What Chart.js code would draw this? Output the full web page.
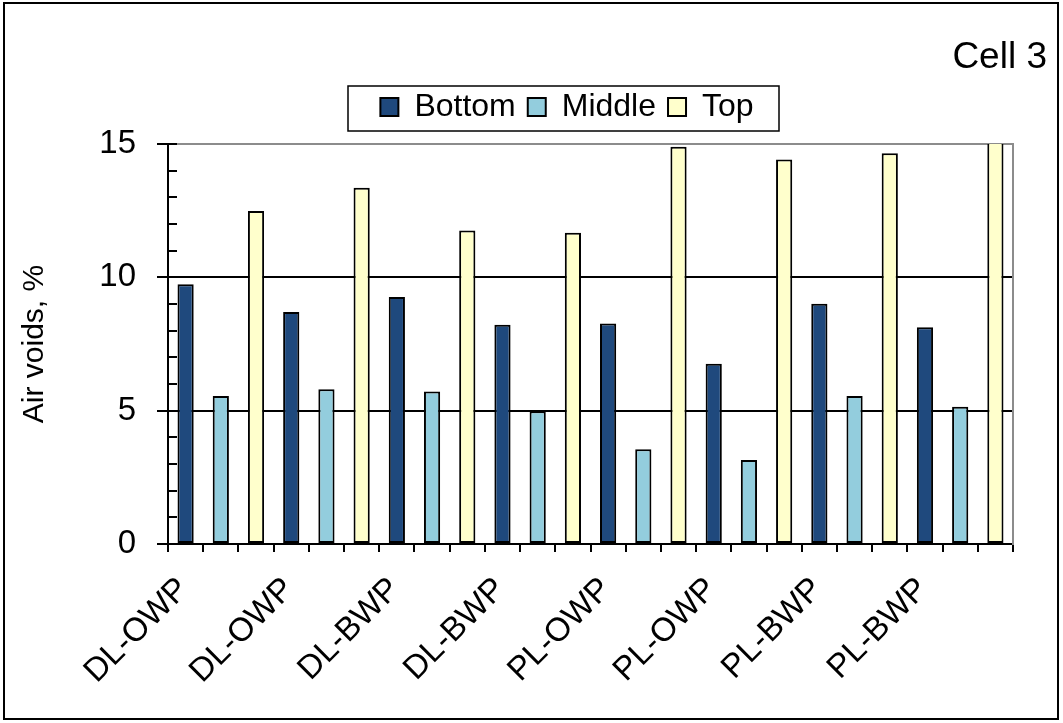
<!DOCTYPE html>
<html>
<head>
<meta charset="utf-8">
<script src="https://cdn.jsdelivr.net/npm/chart.js@4.4.1/dist/chart.umd.min.js"></script>
<style>
  html, body { margin: 0; padding: 0; background: #fff; }
  #frame {
    position: absolute; left: 3px; top: 2px;
    width: 1056px; height: 718px;
    border: 2px solid #000; box-sizing: border-box;
  }
  canvas { display: block; }
</style>
</head>
<body>
<div id="frame"><canvas id="chart" width="1052" height="714"></canvas></div>
<script>
// data
const groups = ['DL-OWP', 'DL-OWP', 'DL-BWP', 'DL-BWP', 'PL-OWP', 'PL-OWP', 'PL-BWP', 'PL-BWP']
const seriesNames = ['Bottom', 'Middle', 'Top']
const bottomVals = [9.74, 8.70, 9.26, 8.22, 8.27, 6.76, 9.01, 8.13]
const middleVals = [5.55, 5.80, 5.72, 4.98, 3.55, 3.15, 5.55, 5.15]
const topVals = [12.49, 13.36, 11.76, 11.67, 14.90, 14.42, 14.65, 15.40]
const yMin = 0
const yMax = 15
const yMajorStep = 5
const yMinorStep = 1
const colors = ['#1F497D', '#93CDDD', '#FFFFCC']
const cellTitle = 'Cell 3'

Chart.defaults.font.family = "'Liberation Sans', Arial, sans-serif"
Chart.defaults.color = '#000'

// every bar gets its own slot on the axis, label on the first slot of each group
const slotLabels = []
groups.forEach(g => { slotLabels.push(g, '', '') })

function spread(values, pos) {
    let out = []
    for (let i = 0; i < values.length; i++) {
        out.push(null, null, null)
        out[i * 3 + pos] = values[i]
    }
    return out
}

const allVals = [bottomVals, middleVals, topVals]
const datasets = seriesNames.map((name, k) => ({
    label: name,
    data: spread(allVals[k], k),
    backgroundColor: colors[k],
    borderColor: '#000',
    borderWidth: 2,
    borderSkipped: false,
    grouped: false,
    barPercentage: 0.46,
    categoryPercentage: 1.0
}))

// legend moved over a bit, with a frame round it, plus the corner title
const decor = {
    id: 'decor',
    afterLayout(chart) {
        const lg = chart.legend
        lg.left += 36; lg.right += 36
        lg.top -= 11; lg.bottom -= 11
    },
    afterDraw(chart) {
        const ctx = chart.ctx
        const lg = chart.legend
        const cx = (lg.left + lg.right) / 2
        const cy = lg.top + 12 + 16
        ctx.save()
        ctx.strokeStyle = '#000'
        ctx.lineWidth = 1.5
        ctx.strokeRect(cx - 219, cy - 21, 431, 45)
        ctx.font = "37px 'Liberation Sans', Arial, sans-serif"
        ctx.fillStyle = '#000'
        ctx.textAlign = 'right'
        ctx.textBaseline = 'middle'
        ctx.fillText(cellTitle, chart.width - 10, 54)
        ctx.restore()
    }
}

new Chart(document.getElementById('chart'), {
    type: 'bar',
    data: { labels: slotLabels, datasets: datasets },
    options: {
        responsive: false,
        animation: false,
        devicePixelRatio: 1,
        layout: { padding: { top: 86, left: 0, right: 0, bottom: 0 } },
        plugins: {
            legend: {
                position: 'top',
                labels: {
                    boxWidth: 18, boxHeight: 18, padding: 12,
                    font: { size: 32 }, color: '#000'
                }
            },
            tooltip: { enabled: false }
        },
        scales: {
            x: {
                offset: true,
                grid: {
                    offset: true, drawOnChartArea: false, drawTicks: true,
                    tickLength: 8, color: '#000', lineWidth: 2
                },
                border: { display: true, color: '#000', width: 2 },
                ticks: {
                    autoSkip: false, maxRotation: 45, minRotation: 45,
                    padding: 18, labelOffset: -2, font: { size: 33 }, color: '#000'
                },
                afterFit(s) { s.height = 174 }
            },
            y: {
                position: 'left', weight: 1,
                min: yMin, max: yMax,
                ticks: { stepSize: yMajorStep, padding: 21, font: { size: 33 }, color: '#000' },
                grid: {
                    tickLength: 11, lineWidth: 2, tickColor: '#000',
                    color: c => (c.tick && c.tick.value === yMax) ? '#8c8c8c' : '#000'
                },
                border: { display: true, color: '#000', width: 2 },
                title: {
                    display: true, text: 'Air voids, %',
                    font: { size: 30 }, color: '#000', padding: { top: 12, bottom: 0 }
                },
                afterFit(s) { s.width = 163 }
            },
            yMinor: {
                position: 'left', weight: 0,
                min: yMin, max: yMax,
                ticks: { stepSize: yMinorStep, display: false },
                grid: { drawOnChartArea: false, tickLength: -9, color: '#000', lineWidth: 2 },
                border: { display: false },
                afterFit(s) { s.width = 0 }
            },
            yRight: {
                position: 'right',
                min: yMin, max: yMax,
                ticks: { display: false },
                grid: { drawOnChartArea: false, drawTicks: false },
                border: { display: true, color: '#8c8c8c', width: 2 },
                afterFit(s) { s.width = 44 }
            }
        }
    },
    plugins: [decor]
})
</script>
</body>
</html>
